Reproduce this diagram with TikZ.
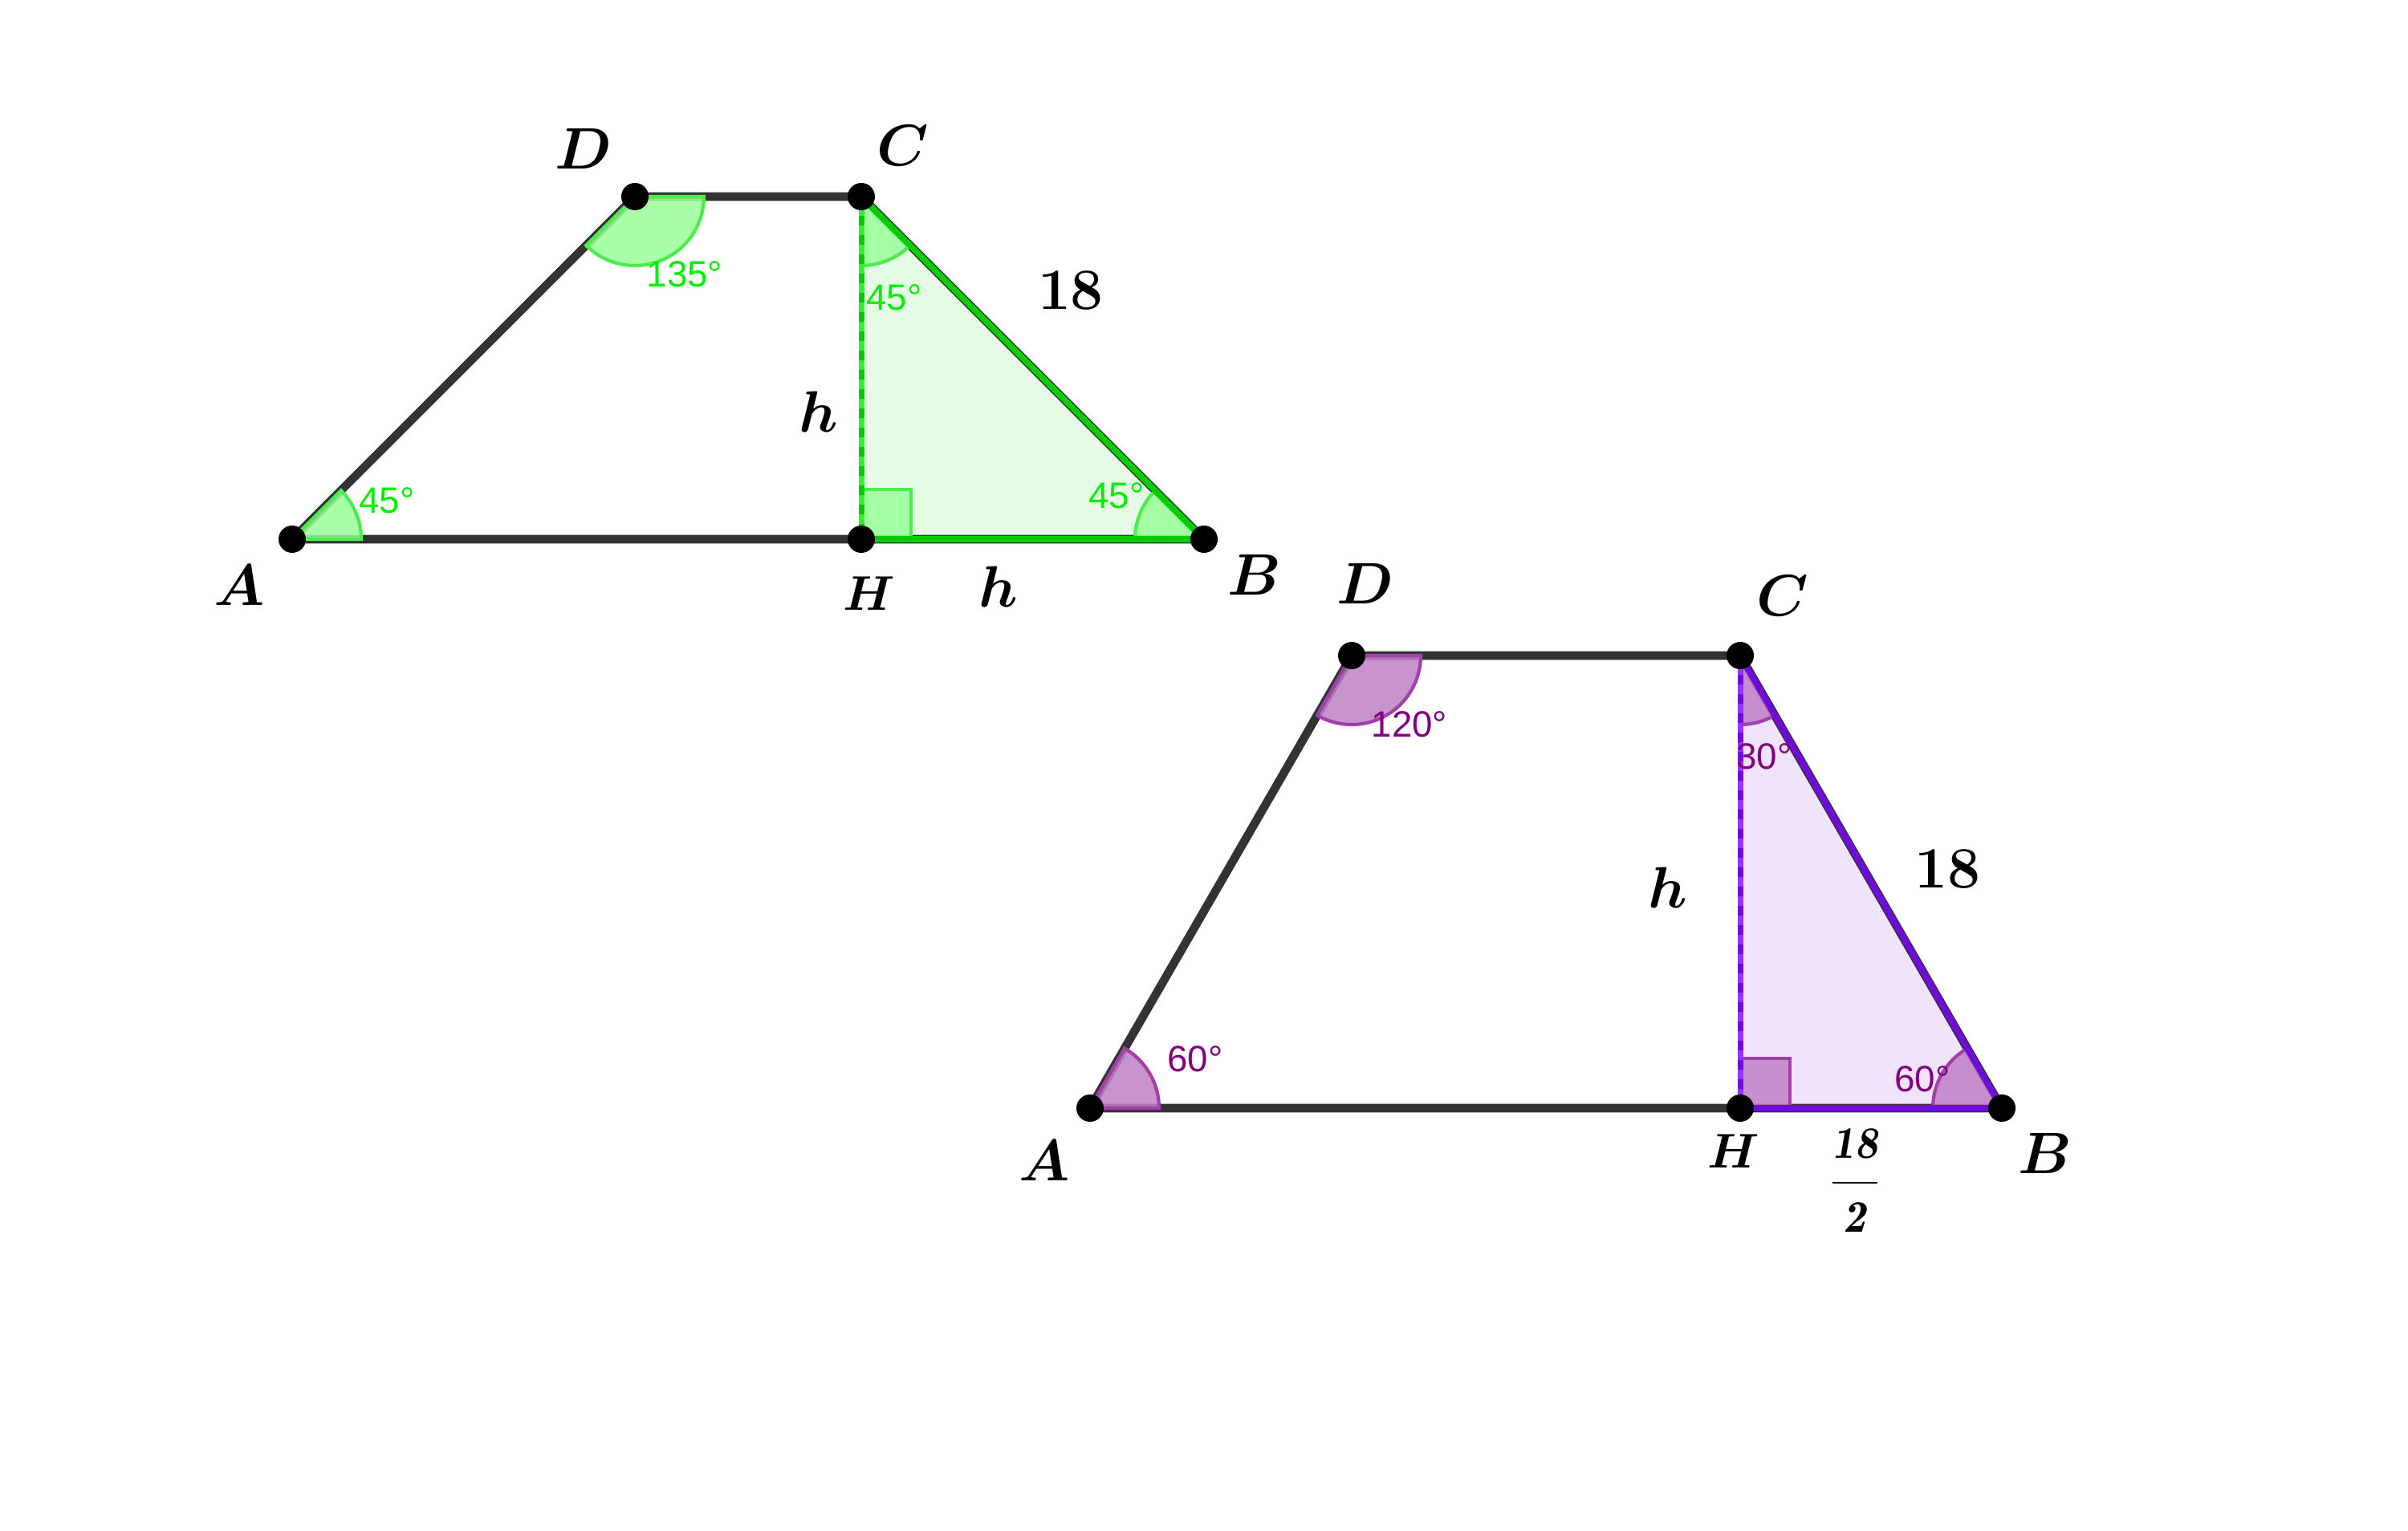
\documentclass[tikz,border=0pt]{standalone}
\usepackage{xcolor}
\usepackage{fontspec}
\newfontfamily\anglefont{Liberation Sans}
\usepackage{tikz}
\usetikzlibrary{positioning}

\definecolor{edgegray}{HTML}{333333}
\definecolor{greenline}{HTML}{00CC00}
\definecolor{greenlight}{HTML}{33F033}
\definecolor{greenfill}{HTML}{E5FBE5}
\definecolor{greenangle}{HTML}{99FF99}
\definecolor{greenarc}{HTML}{4CEC4C}
\definecolor{greentext}{HTML}{00F000}
\definecolor{violetline}{HTML}{6F0CD9}
\definecolor{violetlight}{HTML}{9933FF}
\definecolor{violetfill}{HTML}{F0E4FC}
\definecolor{violetangle}{HTML}{BF80C6}
\definecolor{violetarc}{HTML}{A040A8}
\definecolor{violettext}{HTML}{800080}

\begin{document}
\begin{tikzpicture}[
    edge/.style={draw=edgegray, line width=3pt, line cap=round},
    sideg/.style={draw=greenline, line width=2.2pt},
    sidev/.style={draw=violetline, line width=2.2pt},
    angg/.style={fill=greenangle, fill opacity=0.85, draw=greenarc, line width=1.2pt},
    angv/.style={fill=violetangle, fill opacity=0.85, draw=violetarc, line width=1.2pt},
    pt/.style={circle, fill=black, inner sep=0pt, minimum size=0.34cm},
    lbl/.style={font=\fontsize{22}{26}\selectfont\boldmath, inner sep=0pt},
    lblsmall/.style={font=\fontsize{16}{19}\selectfont\boldmath, inner sep=0pt},
    deg/.style={font=\fontsize{13}{15}\selectfont\anglefont, inner sep=0pt}
]
\useasboundingbox (0,0) rectangle (30,19.07);

% Trapezoid 1: 45 degrees
\coordinate (A1) at (3.64,12.35);
\coordinate (D1) at (7.91,16.62);
\coordinate (C1) at (10.73,16.62);
\coordinate (H1) at (10.73,12.35);
\coordinate (B1) at (15.00,12.35);

\fill[greenfill] (C1) -- (H1) -- (B1) -- cycle;
\draw[edge] (A1) -- (B1) -- (C1) -- (D1) -- cycle;
\filldraw[angg] (H1) rectangle ++(0.62,0.62);
\filldraw[angg] (A1) -- ++(0:0.86) arc (0:45:0.86) -- cycle;
\filldraw[angg] (D1) -- ++(225:0.86) arc (225:360:0.86) -- cycle;
\filldraw[angg] (C1) -- ++(270:0.86) arc (270:315:0.86) -- cycle;
\filldraw[angg] (B1) -- ++(135:0.86) arc (135:180:0.86) -- cycle;
\draw[sideg] (H1) -- (B1);
\draw[sideg] (C1) -- (B1);
\draw[greenlight, line width=2pt] (C1) -- (H1);
\draw[greenline, line width=2pt, dash pattern=on 0.12cm off 0.12cm] (C1) -- (H1);

\foreach \p in {A1,D1,C1,H1,B1} \node[pt] at (\p) {};

\node[lbl] (labA1) at (2.98,11.78) {$A$};
\node[lbl] (labD1) at (7.27,17.21) {$D$};
\node[lbl] (labC1) at (11.25,17.25) {$C$};
\node[lblsmall] (labH1) at (10.83,11.67) {$H$};
\node[lbl] (labB1) at (15.63,11.91) {$B$};
\node[lbl] (hleft1) at (10.20,13.94) {$h$};
\node[lbl] (hbot1) at (12.44,11.76) {$h$};
\node[lbl] (len1) at (13.34,15.45) {$\mathbf{18}$};
\node[deg, text=greentext] (angD1) at (8.53,15.65) {135°};
\node[deg, text=greentext] (angC1) at (11.14,15.36) {45°};
\node[deg, text=greentext] (angA1) at (4.82,12.83) {45°};
\node[deg, text=greentext] (angB1) at (13.91,12.89) {45°};

% Trapezoid 2: 60 degrees
\coordinate (A2) at (13.58,5.26);
\coordinate (D2) at (16.84,10.90);
\coordinate (C2) at (21.68,10.90);
\coordinate (H2) at (21.68,5.26);
\coordinate (B2) at (24.94,5.26);

\fill[violetfill] (C2) -- (H2) -- (B2) -- cycle;
\draw[edge] (A2) -- (B2) -- (C2) -- (D2) -- cycle;
\filldraw[angv] (H2) rectangle ++(0.62,0.62);
\filldraw[angv] (A2) -- ++(0:0.86) arc (0:60:0.86) -- cycle;
\filldraw[angv] (D2) -- ++(240:0.86) arc (240:360:0.86) -- cycle;
\filldraw[angv] (C2) -- ++(270:0.86) arc (270:300:0.86) -- cycle;
\filldraw[angv] (B2) -- ++(120:0.86) arc (120:180:0.86) -- cycle;
\draw[sidev] (H2) -- (B2);
\draw[sidev] (C2) -- (B2);
\draw[violetlight, line width=2pt] (C2) -- (H2);
\draw[violetline, line width=2pt, dash pattern=on 0.12cm off 0.12cm] (C2) -- (H2);

\foreach \p in {A2,D2,C2,H2,B2} \node[pt] at (\p) {};

\node[lbl] (labA2) at (13.01,4.61) {$A$};
\node[lbl] (labD2) at (17.01,11.80) {$D$};
\node[lbl] (labC2) at (22.21,11.65) {$C$};
\node[lblsmall] (labH2) at (21.60,4.72) {$H$};
\node[lbl] (labB2) at (25.48,4.70) {$B$};
\node[lbl] (hleft2) at (20.78,8.01) {$h$};
\node[lbl] (len2) at (24.26,8.24) {$\mathbf{18}$};
\node[lblsmall] (half2) at (23.11,4.36) {$\displaystyle\frac{\mathit{18}}{\mathit{2}}$};
\node[deg, text=violettext] (angD2) at (17.56,10.04) {120°};
\node[deg, text=violettext] (angC2) at (21.98,9.64) {30°};
\node[deg, text=violettext] (angA2) at (14.89,5.87) {60°};
\node[deg, text=violettext] (angB2) at (23.95,5.62) {60°};

\end{tikzpicture}
\end{document}
